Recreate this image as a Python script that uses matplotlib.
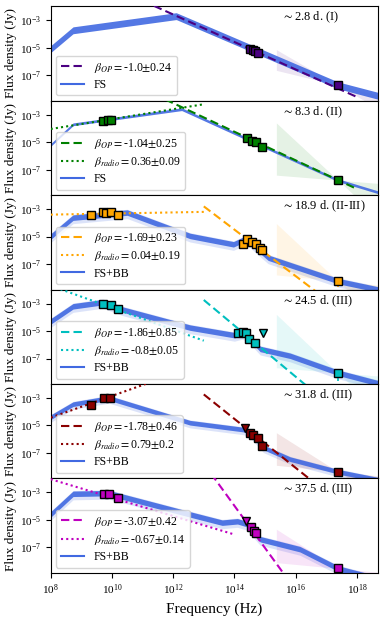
import numpy as np
import matplotlib
matplotlib.use("Agg")
import matplotlib.pyplot as plt

plt.rcParams['font.family'] = ['Liberation Serif', 'DejaVu Serif']
plt.rcParams['mathtext.fontset'] = 'stix'

# ---------------- data (log10 values) ----------------
epochs = [r"$\sim$2.8 d. (I)", r"$\sim$8.3 d. (II)", r"$\sim$18.9 d. (II-III)",
          r"$\sim$24.5 d. (III)", r"$\sim$31.8 d. (III)", r"$\sim$37.5 d. (III)"]
colors = ['indigo', 'green', 'orange', 'c', 'darkred', 'm']
model_labels = ['FS', 'FS', 'FS+BB', 'FS+BB', 'FS+BB', 'FS+BB']

beta_op = [-1.0, -1.04, -1.69, -1.86, -1.78, -3.07]
beta_op_err = [0.24, 0.25, 0.23, 0.85, 0.46, 0.42]
beta_radio = [None, 0.36, 0.04, -0.8, 0.79, -0.67]
beta_radio_err = [None, 0.09, 0.19, 0.05, 0.2, 0.14]

# optical power-law lines: start log(nu), start log(F), end log(nu)
op_start_lognu = [11.0, 11.0, 13.0, 13.0, 13.0, 13.0]
op_start_logF = [-1.58, -1.12, -2.8, -2.74, -2.74, -0.9]
op_end_lognu = [18.0, 18.0, 18.0, 18.0, 18.0, 18.0]

# radio power-law lines
radio_start_lognu = [None, 8.0, 8.0, 8.0, 8.0, 8.0]
radio_start_logF = [None, -4.04, -3.4, -1.7, -4.43, -2.04]
radio_end_lognu = [None, 13.0, 13.0, 13.0, 12.0, 14.0]

# radio detections
radio_lognu = [[], [9.71, 9.87, 9.97], [9.31, 9.70, 9.81, 9.97, 10.21],
               [9.72, 9.97, 10.21], [9.31, 9.74, 9.94], [9.74, 9.92, 10.21]]
radio_logF = [[], [-3.45, -3.4, -3.35], [-3.45, -3.18, -3.3, -3.18, -3.4],
              [-3.0, -3.13, -3.42], [-3.52, -3.03, -2.98], [-3.08, -3.08, -3.37]]

# optical / NIR detections
opt_lognu = [[14.51, 14.6, 14.68, 14.76], [14.40, 14.56, 14.71, 14.89],
             [14.27, 14.40, 14.56, 14.70, 14.84, 14.91],
             [14.13, 14.29, 14.38, 14.49, 14.68],
             [14.51, 14.62, 14.78, 14.9], [14.54, 14.65, 14.71]]
opt_logF = [[-5.06, -5.15, -5.25, -5.4], [-4.73, -4.90, -4.98, -5.34],
            [-5.56, -5.20, -5.36, -5.56, -5.80, -5.97],
            [-5.17, -5.07, -5.17, -5.6, -5.84],
            [-5.52, -5.70, -5.94, -6.5], [-5.55, -5.8, -5.96]]
# optical upper limits
ul_lognu = [[], [], [], [14.92], [14.35], [14.38]]
ul_logF = [[], [], [], [-5.17], [-5.16], [-5.07]]

# X-ray points and bow-tie slopes
xray_lognu = [17.38, 17.38, 17.38, 17.38, 17.38, 17.38]
xray_logF = [-7.73, -7.76, -8.23, -8.03, -8.36, -8.53]
xray_err = [0.15, 0.15, 0.45, 0.6, 0.2, 0.2]
bow_slope_hi = [-1.29, -2.07, -2.08, -2.11, -1.41, -1.42]
bow_slope_lo = [-0.54, -0.18, -0.22, -0.18, -0.23, -0.21]

# afterglow model band knots
model_lognu = [[8, 8.73, 12.1, 17.38, 18.7],
               [8, 8.73, 12.28, 17.38, 18.7],
               [8, 8.73, 10.5, 12.55, 13.97, 14.27, 14.5, 15.1, 17.38, 18.7],
               [8, 8.73, 9.7, 10.37, 12.55, 14.0, 14.25, 14.45, 14.84, 15.82, 17.38, 18.7],
               [8, 8.73, 9.9, 12.55, 14.3, 14.5, 14.95, 15.82, 17.38, 18.7],
               [8, 8.73, 9.9, 12.55, 13.6, 14.1, 14.4, 14.84, 16.14, 17.38, 18.7]]
model_logF = [[-5.1, -3.73, -2.7, -7.73, -8.5],
              [-5.2, -3.7, -2.6, -7.76, -8.65],
              [-5.0, -3.62, -3.25, -4.95, -5.56, -5.25, -5.35, -6.53, -8.23, -8.85],
              [-4.3, -3.2, -2.9, -3.45, -4.75, -5.3, -5.15, -5.35, -6.3, -6.8, -8.03, -8.8],
              [-4.4, -3.45, -3.0, -4.8, -5.3, -5.5, -6.6, -7.45, -8.36, -8.95],
              [-4.6, -3.1, -3.05, -4.6, -5.2, -5.1, -5.3, -6.4, -7.13, -8.53, -9.3]]
model_halfwidth = [0.25, 0.1, 0.2, 0.2, 0.17, 0.2]

# ---------------- figure ----------------
fig = plt.figure(figsize=(3.9, 6.24), dpi=100)
gs = fig.add_gridspec(6, 1, left=0.13, right=0.97, top=0.990, bottom=0.082, hspace=0)
grid = np.linspace(8, 18.7, 600)

axes = []
for i in range(6):
    ax = fig.add_subplot(gs[i], sharex=axes[0] if axes else None)
    axes.append(ax)
    col = colors[i]

    # model band
    mF = np.interp(grid, model_lognu[i], model_logF[i])
    hw = model_halfwidth[i]
    if i >= 2:
        ax.fill_between(10**grid, 10**(mF - 2.2 * hw), 10**(mF + 1.2 * hw),
                        color='royalblue', alpha=0.18, lw=0, zorder=1)
    ax.fill_between(10**grid, 10**(mF - hw), 10**(mF + hw),
                    color='royalblue', alpha=0.9, lw=0, zorder=2)

    # X-ray bow tie
    bx = np.linspace(15.37, 18.7, 50)
    y1 = xray_logF[i] + bow_slope_hi[i] * (bx - xray_lognu[i])
    y2 = xray_logF[i] + bow_slope_lo[i] * (bx - xray_lognu[i])
    ax.fill_between(10**bx, 10**y1, 10**y2, color=col, alpha=0.1, lw=0, zorder=1)

    # optical power law
    ox = np.array([op_start_lognu[i], op_end_lognu[i]])
    oy = op_start_logF[i] + beta_op[i] * (ox - op_start_lognu[i])
    lab_op = r"$\beta_{OP}=$" + f"{beta_op[i]}" + r"$\pm$" + f"{beta_op_err[i]}"
    ax.plot(10**ox, 10**oy, ls=(0, (4, 2)), color=col, lw=1.5, zorder=3, label=lab_op)

    # radio power law
    if beta_radio[i] is not None:
        rx = np.array([radio_start_lognu[i], radio_end_lognu[i]])
        ry = radio_start_logF[i] + beta_radio[i] * (rx - radio_start_lognu[i])
        lab_r = r"$\beta_{radio}=$" + f"{beta_radio[i]}" + r"$\pm$" + f"{beta_radio_err[i]}"
        ax.plot(10**rx, 10**ry, ls=(0, (1, 1.5)), color=col, lw=1.5, zorder=3, label=lab_r)

    ax.plot([], [], color='royalblue', lw=1.5, label=model_labels[i])

    # data points
    ms = 5.5
    if radio_lognu[i]:
        ax.plot(10**np.array(radio_lognu[i]), 10**np.array(radio_logF[i]), 's',
                color=col, mec='k', mew=1.0, ms=ms, zorder=5)
    ax.plot(10**np.array(opt_lognu[i]), 10**np.array(opt_logF[i]), 's',
            color=col, mec='k', mew=1.0, ms=ms, zorder=5)
    if ul_lognu[i]:
        ax.plot(10**np.array(ul_lognu[i]), 10**np.array(ul_logF[i]), 'v',
                color=col, mec='k', mew=1.0, ms=ms, zorder=5)
    xf = xray_logF[i]
    ax.errorbar([10**xray_lognu[i]], [10**xf],
                yerr=[[10**xf - 10**(xf - xray_err[i])], [10**(xf + 0.1) - 10**xf]],
                fmt='s', color=col, mec='k', mew=1.0, ms=ms, elinewidth=1.2, capsize=0, zorder=5)

    ax.set_xscale('log')
    ax.set_yscale('log')
    ax.set_xlim(1e8, 10**18.7)
    ax.set_ylim(10**-8.85, 10**-1.98)
    ax.set_yticks([1e-7, 1e-5, 1e-3])
    ax.set_xticks([10.0**k for k in range(8, 19, 2)])
    ax.minorticks_off()
    ax.tick_params(labelsize=8, length=3.5, width=0.8)
    ax.set_ylabel('Flux density (Jy)', fontsize=9.5, labelpad=2)
    ax.text(0.705, 0.88, epochs[i], transform=ax.transAxes, fontsize=9,
            ha='left', va='center')
    ax.legend(loc='lower left', fontsize=8.5, handlelength=2.0, borderaxespad=0.45,
              labelspacing=0.35, borderpad=0.4)
    if i < 5:
        ax.tick_params(labelbottom=False)

axes[-1].set_xlabel('Frequency (Hz)', fontsize=11)

fig.savefig('out.png', dpi=100)
